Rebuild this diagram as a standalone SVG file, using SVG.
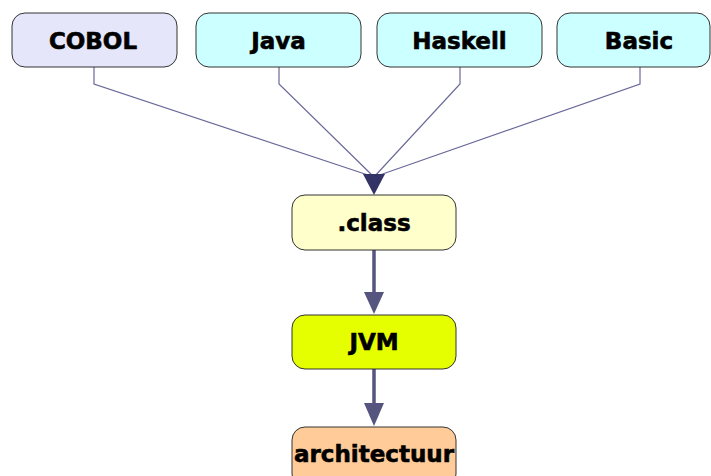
<svg xmlns="http://www.w3.org/2000/svg" width="711" height="476" viewBox="0 0 711 476">
  <style>
    .box { stroke: #333333; stroke-width: 1; }
    .lbl { font-family: "DejaVu Sans", Verdana, sans-serif; font-weight: bold; font-size: 23px; fill: #000000; stroke: #000000; stroke-width: 0.6; text-anchor: middle; }
    .thin { fill: none; stroke: #6a6a9a; stroke-width: 1.2; }
    .thick { fill: none; stroke: #55557f; stroke-width: 3.5; }
    .head { fill: #55557f; }
  </style>
  <rect width="711" height="476" fill="#ffffff"/>

  <g id="connectors">
    <polyline class="thin" points="94,67 94,84 374,177"/>
    <polyline class="thin" points="279,67 279,84 374,177"/>
    <polyline class="thin" points="460,67 460,84 374,177"/>
    <polyline class="thin" points="640,67 640,84 374,177"/>
    <polygon points="363,174 385,174 374,195" fill="#333366"/>
    <line class="thick" x1="374" y1="250" x2="374" y2="294"/>
    <polygon class="head" points="364,292 384,292 374,314"/>
    <line class="thick" x1="374" y1="369" x2="374" y2="405"/>
    <polygon class="head" points="364,403 384,403 374,426"/>
  </g>

  <g id="cobol">
    <rect class="box" x="12" y="13" width="165" height="54" rx="13" fill="#e6e6fa"/>
    <text class="lbl" x="93" y="49">COBOL</text>
  </g>
  <g id="java">
    <rect class="box" x="196" y="13" width="165" height="54" rx="13" fill="#ccffff"/>
    <text class="lbl" x="278.5" y="49">Java</text>
  </g>
  <g id="haskell">
    <rect class="box" x="377" y="13" width="165" height="54" rx="13" fill="#ccffff"/>
    <text class="lbl" x="459.5" y="49">Haskell</text>
  </g>
  <g id="basic">
    <rect class="box" x="557" y="13" width="153" height="54" rx="13" fill="#ccffff"/>
    <text class="lbl" x="639" y="49">Basic</text>
  </g>
  <g id="class">
    <rect class="box" x="292" y="195" width="164" height="55" rx="13" fill="#ffffcc"/>
    <text class="lbl" x="374" y="231">.class</text>
  </g>
  <g id="jvm">
    <rect class="box" x="292" y="315" width="164" height="54" rx="13" fill="#e6ff00"/>
    <text class="lbl" x="374" y="350">JVM</text>
  </g>
  <g id="architectuur">
    <rect class="box" x="292" y="427" width="164" height="60" rx="13" fill="#ffcc99"/>
    <text class="lbl" x="374" y="462">architectuur</text>
  </g>
</svg>
